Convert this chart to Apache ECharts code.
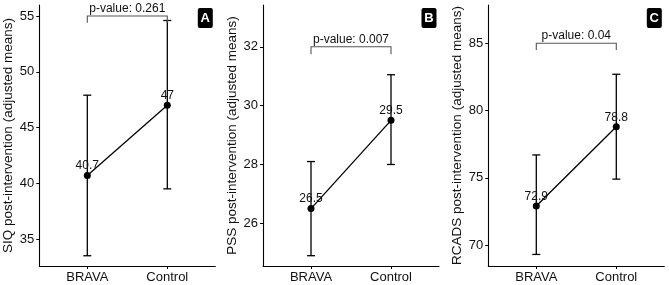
<!DOCTYPE html>
<html><head><meta charset="utf-8">
<script src="https://cdn.jsdelivr.net/npm/echarts@6/dist/echarts.min.js"></script>
<style>html,body{margin:0;padding:0;background:#fff}#c{width:669px;height:285px}</style>
</head><body><div id="c"></div>
<script>
// ---- data ----
const categories = ['BRAVA', 'Control'];
const siqMeans = [40.7, 47.0];
const siqLower = [33.5, 39.5];
const siqUpper = [47.9, 54.6];
const pssMeans = [26.5, 29.5];
const pssLower = [24.9, 28.0];
const pssUpper = [28.1, 31.05];
const rcadsMeans = [72.9, 78.8];
const rcadsLower = [69.3, 74.9];
const rcadsUpper = [76.7, 82.7];
const meanLabels = [['40.7', '47'], ['26.5', '29.5'], ['72.9', '78.8']];
const pValues = ['p-value: 0.261', 'p-value: 0.007', 'p-value: 0.04'];
const siqTicks = [35, 40, 45, 50, 55];
const pssTicks = [26, 28, 30, 32];
const rcadsTicks = [70, 75, 80, 85];
const yTitles = ['SIQ post-intervention (adjusted means)', 'PSS post-intervention (adjusted means)', 'RCADS post-intervention (adjusted means)'];
const panelTags = ['A', 'B', 'C'];
const bracketY = [55.0, 32.0, 85.0];
const bracketDrop = [54.4, 31.75, 84.5];

// ---- layout ----
const FONT = "'Liberation Sans', Arial, Helvetica, sans-serif";
const panels = [
  { left: 39.3, min: 32.58, max: 55.99, means: siqMeans, lo: siqLower, hi: siqUpper, ticks: siqTicks },
  { left: 263, min: 24.55, max: 33.42, means: pssMeans, lo: pssLower, hi: pssUpper, ticks: pssTicks },
  { left: 488.3, min: 68.44, max: 87.85, means: rcadsMeans, lo: rcadsLower, hi: rcadsUpper, ticks: rcadsTicks }
];
const W = 176, TOP = 5, H = 261;

const grid = [], xAxis = [], yAxis = [], series = [], graphic = [];
panels.forEach((p, i) => {
  grid.push({ left: p.left, top: TOP, width: W, height: H, containLabel: false });
  xAxis.push({
    type: 'value', gridIndex: i, min: 0.4, max: 2.6,
    splitLine: { show: false },
    axisLine: { show: true, onZero: false, lineStyle: { color: '#000', width: 1.1 } },
    axisTick: { show: true, customValues: [1, 2], length: 3, lineStyle: { color: '#000', width: 1 } },
    axisLabel: { customValues: [1, 2], formatter: v => categories[Math.round(v) - 1], color: '#111', fontSize: 13, fontFamily: FONT, margin: 5 }
  });
  yAxis.push({
    type: 'value', gridIndex: i, min: p.min, max: p.max,
    name: yTitles[i], nameLocation: 'middle', nameGap: 24,
    nameTextStyle: { color: '#111', fontSize: 13.5, fontFamily: FONT },
    splitLine: { show: false },
    axisLine: { show: true, onZero: false, lineStyle: { color: '#000', width: 1.1 } },
    axisTick: { show: true, customValues: p.ticks, length: 3, lineStyle: { color: '#000', width: 1 } },
    axisLabel: { customValues: p.ticks, color: '#111', fontSize: 13, fontFamily: FONT, margin: 5 }
  });
  // error bars
  series.push({
    type: 'custom', xAxisIndex: i, yAxisIndex: i, silent: true,
    data: categories.map((c, k) => [k + 1, p.lo[k], p.hi[k]]),
    renderItem: (params, api) => {
      const x = api.value(0);
      const a = api.coord([x, api.value(1)]);
      const b = api.coord([x, api.value(2)]);
      const cw = 4;
      const st = { stroke: '#000', lineWidth: 1.3 };
      return { type: 'group', children: [
        { type: 'line', shape: { x1: a[0], y1: a[1], x2: b[0], y2: b[1] }, style: st },
        { type: 'line', shape: { x1: a[0] - cw, y1: a[1], x2: a[0] + cw, y2: a[1] }, style: st },
        { type: 'line', shape: { x1: b[0] - cw, y1: b[1], x2: b[0] + cw, y2: b[1] }, style: st }
      ] };
    }
  });
  // means line + points + labels
  series.push({
    type: 'line', xAxisIndex: i, yAxisIndex: i, silent: true,
    data: categories.map((c, k) => [k + 1, p.means[k]]),
    lineStyle: { color: '#000', width: 1.3 },
    itemStyle: { color: '#000' },
    symbol: 'circle', symbolSize: 7, z: 3,
    label: {
      show: true, position: 'top', distance: 0,
      formatter: prm => meanLabels[i][prm.dataIndex],
      color: '#111', fontSize: 12, fontFamily: FONT
    }
  });
  // significance bracket
  series.push({
    type: 'custom', xAxisIndex: i, yAxisIndex: i, silent: true,
    data: [[1, 2, bracketY[i], bracketDrop[i]]],
    renderItem: (params, api) => {
      const p1 = api.coord([api.value(0), api.value(3)]);
      const p2 = api.coord([api.value(0), api.value(2)]);
      const p3 = api.coord([api.value(1), api.value(2)]);
      const p4 = api.coord([api.value(1), api.value(3)]);
      return { type: 'group', children: [
        { type: 'polyline', shape: { points: [p1, p2, p3, p4] }, style: { stroke: '#555', lineWidth: 1.1, fill: null } },
        { type: 'text', x: (p2[0] + p3[0]) / 2, y: p2[1] - 1.5,
          style: { text: pValues[i], fill: '#111', font: '12px ' + FONT, textAlign: 'center', textVerticalAlign: 'bottom' } }
      ] };
    }
  });
  // panel tag
  const cx = p.left + 166;
  graphic.push({
    type: 'group', left: cx - 7.5, top: 8,
    children: [
      { type: 'rect', shape: { x: 0, y: 0, width: 15, height: 20, r: 2 }, style: { fill: '#000' } },
      { type: 'text', x: 7.5, y: 10, style: { text: panelTags[i], fill: '#fff', font: 'bold 13px ' + FONT, textAlign: 'center', textVerticalAlign: 'middle' } }
    ]
  });
});

const chart = echarts.init(document.getElementById('c'), null, { renderer: 'canvas' });
chart.setOption({ animation: false, backgroundColor: '#fff', grid, xAxis, yAxis, series, graphic });
</script>
</body></html>
